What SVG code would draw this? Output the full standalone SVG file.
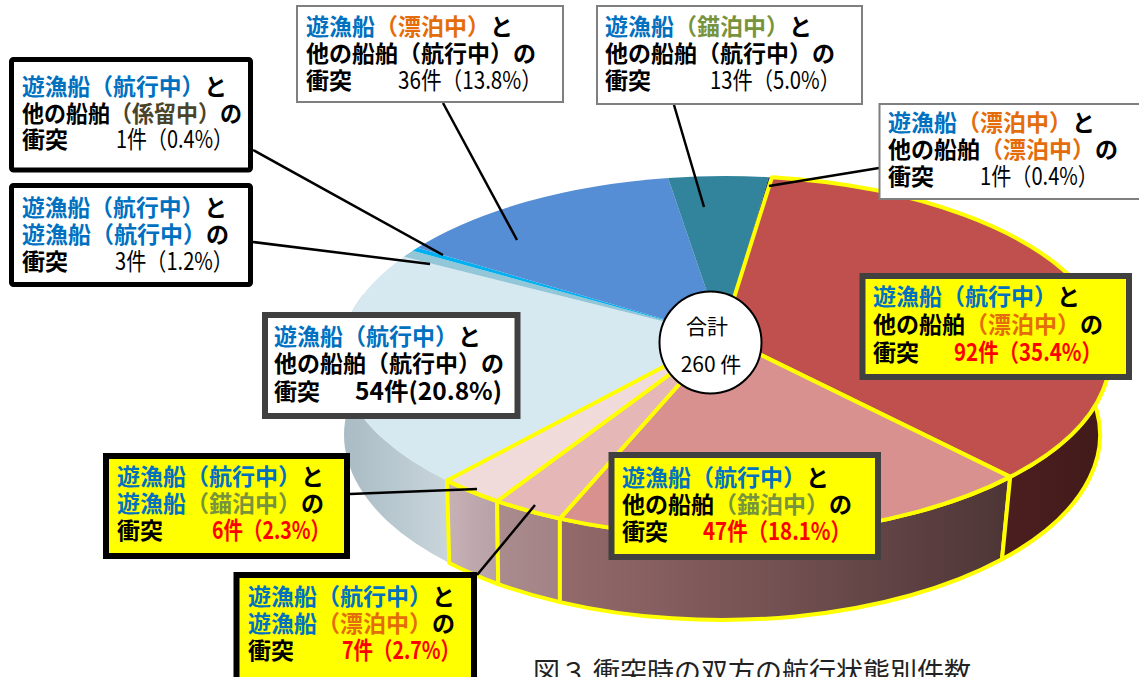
<svg xmlns="http://www.w3.org/2000/svg" width="1139" height="677" viewBox="0 0 1139 677">
<defs>
<style>
.t{font-family:"Noto Sans CJK JP","Noto Sans CJK SC",sans-serif;font-size:23px;font-weight:700;fill:#000}
.n{font-weight:400;font-size:24px}
.m{font-size:24px}
.b{fill:#0070c0}
.o{fill:#e46c0a}
.g{fill:#77933c}
.k{fill:#494429}
.r{fill:#ff0000}
.y{stroke:#ffff00;stroke-width:4;stroke-linejoin:round}
.ld{stroke:#000;stroke-width:2.5;fill:none}
.bx1{fill:#fff;stroke:#000;stroke-width:5}
.bx2{fill:#fff;stroke:#7f7f7f;stroke-width:2}
.bx3{fill:#ffff00;stroke:#404040;stroke-width:6}
.bx4{fill:#ffff00;stroke:#000;stroke-width:6}
.c{font-family:"Noto Sans CJK JP","Noto Sans CJK SC",sans-serif;font-size:21px;fill:#000}
</style>
<linearGradient id="gLb" gradientUnits="userSpaceOnUse" x1="340" y1="0" x2="449" y2="0"><stop offset="0" stop-color="#a8bac3"/><stop offset="1" stop-color="#c9d6dc"/></linearGradient>
<linearGradient id="gP6" gradientUnits="userSpaceOnUse" x1="449" y1="0" x2="498" y2="0"><stop offset="0" stop-color="#c6b1b7"/><stop offset="1" stop-color="#b7a0a6"/></linearGradient>
<linearGradient id="gP7" gradientUnits="userSpaceOnUse" x1="498" y1="0" x2="560" y2="0"><stop offset="0" stop-color="#ab8c8e"/><stop offset="1" stop-color="#a28284"/></linearGradient>
<linearGradient id="gP47" gradientUnits="userSpaceOnUse" x1="560" y1="0" x2="1002" y2="0"><stop offset="0" stop-color="#946a6b"/><stop offset="0.4" stop-color="#7a5556"/><stop offset="1" stop-color="#4e3637"/></linearGradient>
<linearGradient id="gR" gradientUnits="userSpaceOnUse" x1="1002" y1="0" x2="1100" y2="0"><stop offset="0" stop-color="#4c1f1f"/><stop offset="1" stop-color="#421a1a"/></linearGradient>
</defs>
<rect width="1139" height="677" fill="#fff"/>

<g id="pie">
<g id="walls">
<path d="M447.1,480.6 A385,180 0 0,1 363.2,294.4 L366.8,371.7 A378,185 0 0,0 449.2,563.0 Z" fill="url(#gLb)"/>
<path class="y" d="M497.1,501.1 A385,180 0 0,1 447.1,480.6 L449.2,563.0 A378,185 0 0,0 498.2,584.1 Z" fill="url(#gP6)"/>
<path class="y" d="M559.9,518.6 A385,180 0 0,1 497.1,501.1 L498.2,584.1 A378,185 0 0,0 559.9,602.1 Z" fill="url(#gP7)"/>
<path class="y" d="M1010.2,476.9 A385,180 0 0,1 559.9,518.6 L559.9,602.1 A378,185 0 0,0 1002.0,559.3 Z" fill="url(#gP47)"/>
<path class="y" d="M1096.9,309.4 A385,180 0 0,1 1010.2,476.9 L1002.0,559.3 A378,185 0 0,0 1087.1,387.1 Z" fill="url(#gR)"/>
</g>
<g id="tops">
<path d="M722,336 L447.1,480.6 A385,180 0 0,1 404.0,256.7 Z" fill="#d6e9f0"/>
<path d="M722,336 L404.0,256.7 A385,180 0 0,1 412.7,250.7 Z" fill="#93c6d6"/>
<path d="M722,336 L412.7,250.7 A385,180 0 0,1 417.5,247.7 Z" fill="#00b0f0"/>
<path d="M722,336 L417.5,247.7 A385,180 0 0,1 668.1,178.0 Z" fill="#558ed5"/>
<path d="M722,336 L668.1,178.0 A385,180 0 0,1 768.6,177.2 Z" fill="#31849b"/>
<path d="M722,336 L768.6,177.2 A385,180 0 0,1 771.9,177.3 Z" fill="#1f3864"/>
<path class="y" d="M722,336 L771.9,177.3 A385,180 0 0,1 1010.2,476.9 Z" fill="#c0504d"/>
<path class="y" d="M722,336 L1010.2,476.9 A385,180 0 0,1 559.9,518.6 Z" fill="#d9918f"/>
<path class="y" d="M722,336 L559.9,518.6 A385,180 0 0,1 497.1,501.1 Z" fill="#e5b7b6"/>
<path class="y" d="M722,336 L497.1,501.1 A385,180 0 0,1 447.1,480.6 Z" fill="#f1dada"/>
</g>
</g>

<g id="connectors">
<line class="ld" x1="253" y1="150" x2="443" y2="255"/>
<line class="ld" x1="253" y1="242" x2="430" y2="264"/>
<line class="ld" x1="443" y1="103" x2="517" y2="240"/>
<line class="ld" x1="674" y1="105" x2="704" y2="207"/>
<line class="ld" x1="879" y1="168" x2="769" y2="186"/>
<line class="ld" x1="350" y1="494" x2="477" y2="489"/>
<line class="ld" x1="477" y1="575" x2="535" y2="505"/>
</g>

<g id="label-keiryu">
<rect class="bx1" x="11.5" y="59.5" width="239" height="110.5" rx="2"/>
<text class="t" x="22" y="95" textLength="205" lengthAdjust="spacingAndGlyphs"><tspan class="b">遊漁船（航行中）</tspan>と</text>
<text class="t" x="22" y="122" textLength="220" lengthAdjust="spacingAndGlyphs">他の船舶<tspan class="k">（係留中）</tspan>の</text>
<text class="t" x="22" y="148">衝突</text>
<text class="t n" x="116" y="148" textLength="117" lengthAdjust="spacingAndGlyphs">1件（0.4%）</text>
</g>

<g id="label-kouko-kouko">
<rect class="bx1" x="11.5" y="185.5" width="239" height="99" rx="2"/>
<text class="t" x="22" y="216" textLength="205" lengthAdjust="spacingAndGlyphs"><tspan class="b">遊漁船（航行中）</tspan>と</text>
<text class="t" x="22" y="243" textLength="207" lengthAdjust="spacingAndGlyphs"><tspan class="b">遊漁船（航行中）</tspan>の</text>
<text class="t" x="22" y="270">衝突</text>
<text class="t n" x="115" y="270" textLength="118" lengthAdjust="spacingAndGlyphs">3件（1.2%）</text>
</g>

<g id="label-hyouhaku-tasen">
<rect class="bx2" x="297" y="6" width="266" height="96"/>
<text class="t" x="306" y="35"><tspan class="b">遊漁船</tspan><tspan class="o">（漂泊中）</tspan>と</text>
<text class="t" x="306" y="62">他の船舶（航行中）の</text>
<text class="t" x="306" y="89">衝突</text>
<text class="t n" x="398" y="89" textLength="144" lengthAdjust="spacingAndGlyphs">36件（13.8%）</text>
</g>

<g id="label-byouhaku-tasen">
<rect class="bx2" x="597" y="6" width="265" height="98"/>
<text class="t" x="605" y="35"><tspan class="b">遊漁船</tspan><tspan class="g">（錨泊中）</tspan>と</text>
<text class="t" x="605" y="62">他の船舶（航行中）の</text>
<text class="t" x="605" y="89">衝突</text>
<text class="t n" x="710" y="89" textLength="130" lengthAdjust="spacingAndGlyphs">13件（5.0%）</text>
</g>

<g id="label-hyouhaku-hyouhaku">
<rect class="bx2" x="879.5" y="104" width="262" height="95"/>
<text class="t" x="888" y="131"><tspan class="b">遊漁船</tspan><tspan class="o">（漂泊中）</tspan>と</text>
<text class="t" x="888" y="158">他の船舶<tspan class="o">（漂泊中）</tspan>の</text>
<text class="t" x="888" y="185">衝突</text>
<text class="t n" x="980" y="185" textLength="118" lengthAdjust="spacingAndGlyphs">1件（0.4%）</text>
</g>

<g id="label-kouko-hyouhaku">
<rect class="bx3" x="862.5" y="276" width="266.5" height="101"/>
<text class="t" x="873" y="305"><tspan class="b">遊漁船（航行中）</tspan>と</text>
<text class="t" x="873" y="333">他の船舶<tspan class="o">（漂泊中）</tspan>の</text>
<text class="t" x="873" y="361">衝突</text>
<text class="t m r" x="954" y="361" textLength="148" lengthAdjust="spacingAndGlyphs">92件（35.4%）</text>
</g>

<g id="label-kouko-tasen">
<rect x="265" y="315" width="252.5" height="101" fill="#fff" stroke="#404040" stroke-width="6"/>
<text class="t" x="274" y="345"><tspan class="b">遊漁船（航行中）</tspan>と</text>
<text class="t" x="274" y="372">他の船舶（航行中）の</text>
<text class="t" x="274" y="400">衝突</text>
<text class="t m" x="355" y="400" textLength="147" lengthAdjust="spacingAndGlyphs">54件(20.8%)</text>
</g>

<g id="label-kouko-byouhaku-yugyo">
<rect class="bx4" x="106" y="456" width="241" height="100"/>
<text class="t" x="117" y="485"><tspan class="b">遊漁船（航行中）</tspan>と</text>
<text class="t" x="117" y="512"><tspan class="b">遊漁船</tspan><tspan class="g">（錨泊中）</tspan>の</text>
<text class="t" x="117" y="539">衝突</text>
<text class="t m r" x="212" y="539" textLength="118" lengthAdjust="spacingAndGlyphs">6件（2.3%）</text>
</g>

<g id="label-kouko-byouhaku-tasen">
<rect class="bx3" x="611.5" y="455" width="266.5" height="102"/>
<text class="t" x="622" y="486"><tspan class="b">遊漁船（航行中）</tspan>と</text>
<text class="t" x="622" y="513">他の船舶<tspan class="g">（錨泊中）</tspan>の</text>
<text class="t" x="622" y="540">衝突</text>
<text class="t m r" x="703" y="540" textLength="148" lengthAdjust="spacingAndGlyphs">47件（18.1%）</text>
</g>

<g id="label-kouko-hyouhaku-yugyo">
<rect class="bx4" x="236.5" y="575" width="237.5" height="120"/>
<text class="t" x="248" y="605"><tspan class="b">遊漁船（航行中）</tspan>と</text>
<text class="t" x="248" y="632"><tspan class="b">遊漁船</tspan><tspan class="o">（漂泊中）</tspan>の</text>
<text class="t" x="248" y="659">衝突</text>
<text class="t m r" x="342" y="659" textLength="118" lengthAdjust="spacingAndGlyphs">7件（2.7%）</text>
</g>

<g id="total">
<circle cx="710.5" cy="342.5" r="51" fill="#fff" stroke="#000" stroke-width="2"/>
<text class="c" x="707" y="334" text-anchor="middle">合計</text>
<text class="c" x="711" y="372" text-anchor="middle">260 件</text>
</g>

<text x="533" y="682" font-family="Noto Sans CJK JP, Noto Sans CJK SC, sans-serif" font-size="27" fill="#222">図３ 衝突時の双方の航行状態別件数</text>
</svg>
